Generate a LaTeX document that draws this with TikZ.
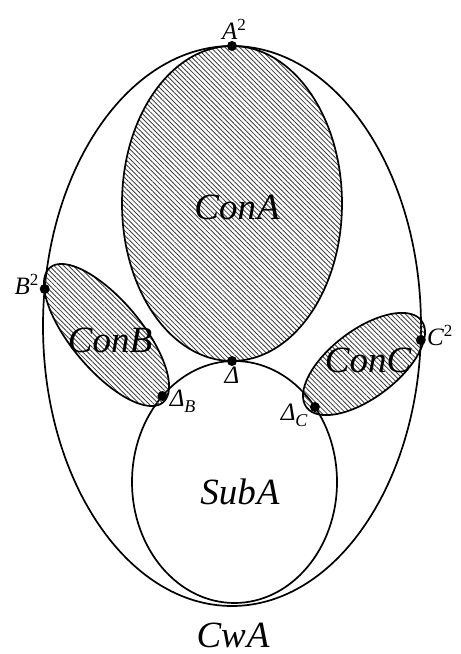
\documentclass[tikz,border=0pt]{standalone}
\usepackage{fontspec}
\setmainfont{Liberation Serif}
\usetikzlibrary{patterns.meta}
\begin{document}
\begin{tikzpicture}[x=1pt,y=1pt,
  curve/.style={line width=1.7pt},
  hatch/.style={curve,pattern={Lines[angle=135,distance=3.4pt,line width=0.85pt]},pattern color=black!75},
  pt/.style={circle,fill=black,inner sep=0pt,minimum size=10pt},
  big/.style={font=\fontsize{37}{40}\selectfont\itshape},
  lbl/.style={font=\fontsize{25}{28}\selectfont\itshape,inner sep=1pt}]
\useasboundingbox (0,0) rectangle (461,654);
% outer ellipse CwA
\draw[curve] (232,328) ellipse [x radius=189, y radius=280];
% SubA
\draw[curve] (234.5,172) ellipse [x radius=102.5, y radius=121];
% ConA
\draw[hatch] (232,450.5) ellipse [x radius=110, y radius=157.5];
% ConB
\draw[hatch, rotate around={-50:(106.5,319)}] (106.5,319) ellipse [x radius=88, y radius=35];
% ConC
\draw[hatch, rotate around={37:(364,290)}] (364,290) ellipse [x radius=72, y radius=34];
% texts
\node[big] (tA) at (237,447) {Con\kern1pt A};
\node[big] (tB) at (110,314) {ConB};
\node[big] (tC) at (368,294) {ConC};
\node[big] (tS) at (240,162) {Sub\kern1pt A};
\node[big] (tW) at (233,19) {Cw\kern1pt A};
% points
\node[pt] (A2) at (232,608) {};
\node[pt] (B2) at (44.7,365) {};
\node[pt] (C2) at (420.8,314) {};
\node[pt] (D) at (232,293) {};
\node[pt] (DB) at (162.4,258) {};
\node[pt] (DC) at (314.9,247) {};
% point labels
\node[lbl,anchor=south] at ([xshift=2pt]A2.north) {A\raisebox{9pt}{\upshape\fontsize{17}{17}\selectfont 2}};
\node[lbl,anchor=east] at ([yshift=5pt]B2.west) {B\raisebox{9pt}{\upshape\fontsize{17}{17}\selectfont 2}};
\node[lbl,anchor=west] at ([yshift=5pt]C2.east) {C\raisebox{9pt}{\upshape\fontsize{17}{17}\selectfont 2}};
\node[lbl,anchor=north] at ([yshift=0pt]D.south) {Δ};
\node[lbl,anchor=west] at ([xshift=1pt,yshift=-5pt]DB.east) {Δ\raisebox{-6pt}{\fontsize{18}{18}\selectfont B}};
\node[lbl,anchor=east] at ([xshift=-1pt,yshift=-8pt]DC.west) {Δ\raisebox{-6pt}{\fontsize{18}{18}\selectfont C}};
\end{tikzpicture}
\end{document}
